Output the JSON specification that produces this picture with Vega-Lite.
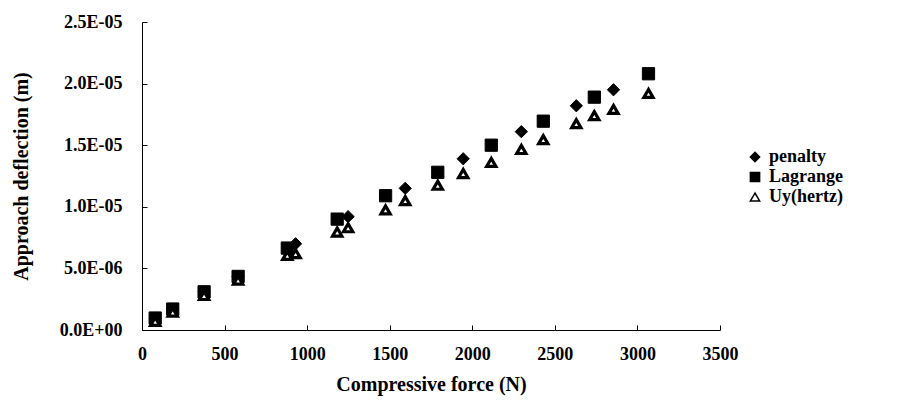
{
  "$schema": "https://vega.github.io/schema/vega-lite/v6.json",
  "width": 578,
  "height": 308,
  "autosize": {"type": "none"},
  "padding": {"left": 142, "top": 22, "right": 182, "bottom": 71},
  "background": "white",
  "config": {
    "view": {"stroke": null},
    "font": "Liberation Serif"
  },
  "data": {
    "values": [
      {"series": "penalty", "force": 80, "deflection": 0.95e-6},
      {"series": "penalty", "force": 186, "deflection": 1.7e-6},
      {"series": "penalty", "force": 376, "deflection": 3.1e-6},
      {"series": "penalty", "force": 582, "deflection": 4.35e-6},
      {"series": "penalty", "force": 930, "deflection": 7.0e-6},
      {"series": "penalty", "force": 1248, "deflection": 9.2e-6},
      {"series": "penalty", "force": 1594, "deflection": 11.5e-6},
      {"series": "penalty", "force": 1945, "deflection": 13.9e-6},
      {"series": "penalty", "force": 2297, "deflection": 16.1e-6},
      {"series": "penalty", "force": 2630, "deflection": 18.2e-6},
      {"series": "penalty", "force": 2855, "deflection": 19.5e-6},
      {"series": "Lagrange", "force": 80, "deflection": 0.97e-6},
      {"series": "Lagrange", "force": 186, "deflection": 1.7e-6},
      {"series": "Lagrange", "force": 376, "deflection": 3.1e-6},
      {"series": "Lagrange", "force": 582, "deflection": 4.35e-6},
      {"series": "Lagrange", "force": 880, "deflection": 6.65e-6},
      {"series": "Lagrange", "force": 1182, "deflection": 9.0e-6},
      {"series": "Lagrange", "force": 1475, "deflection": 10.9e-6},
      {"series": "Lagrange", "force": 1791, "deflection": 12.8e-6},
      {"series": "Lagrange", "force": 2115, "deflection": 15.0e-6},
      {"series": "Lagrange", "force": 2430, "deflection": 16.95e-6},
      {"series": "Lagrange", "force": 2739, "deflection": 18.9e-6},
      {"series": "Lagrange", "force": 3067, "deflection": 20.8e-6},
      {"series": "Uy(hertz)", "force": 80, "deflection": 0.7e-6},
      {"series": "Uy(hertz)", "force": 186, "deflection": 1.45e-6},
      {"series": "Uy(hertz)", "force": 376, "deflection": 2.8e-6},
      {"series": "Uy(hertz)", "force": 582, "deflection": 4.05e-6},
      {"series": "Uy(hertz)", "force": 880, "deflection": 6.05e-6},
      {"series": "Uy(hertz)", "force": 930, "deflection": 6.2e-6},
      {"series": "Uy(hertz)", "force": 1182, "deflection": 7.95e-6},
      {"series": "Uy(hertz)", "force": 1248, "deflection": 8.3e-6},
      {"series": "Uy(hertz)", "force": 1475, "deflection": 9.75e-6},
      {"series": "Uy(hertz)", "force": 1594, "deflection": 10.5e-6},
      {"series": "Uy(hertz)", "force": 1791, "deflection": 11.75e-6},
      {"series": "Uy(hertz)", "force": 1945, "deflection": 12.7e-6},
      {"series": "Uy(hertz)", "force": 2115, "deflection": 13.6e-6},
      {"series": "Uy(hertz)", "force": 2297, "deflection": 14.65e-6},
      {"series": "Uy(hertz)", "force": 2430, "deflection": 15.45e-6},
      {"series": "Uy(hertz)", "force": 2630, "deflection": 16.75e-6},
      {"series": "Uy(hertz)", "force": 2739, "deflection": 17.4e-6},
      {"series": "Uy(hertz)", "force": 2855, "deflection": 17.9e-6},
      {"series": "Uy(hertz)", "force": 3067, "deflection": 19.2e-6}
    ]
  },
  "encoding": {
    "x": {
      "field": "force", "type": "quantitative",
      "scale": {"domain": [0, 3500], "nice": false},
      "axis": {
        "title": "Compressive force (N)",
        "values": [0, 500, 1000, 1500, 2000, 2500, 3000, 3500],
        "format": "d",
        "grid": false,
        "domainColor": "black",
        "tickColor": "black",
        "tickSize": -5,
        "labelPadding": 20,
        "labelFont": "Liberation Serif", "labelFontSize": 18, "labelFontWeight": "bold", "labelColor": "black",
        "titleFont": "Liberation Serif", "titleFontSize": 20, "titleFontWeight": "bold", "titleColor": "black",
        "titlePadding": 11,
        "labelFlush": false
      }
    },
    "y": {
      "field": "deflection", "type": "quantitative",
      "scale": {"domain": [0, 2.5e-5], "nice": false},
      "axis": {
        "title": "Approach deflection (m)",
        "values": [0, 5e-6, 1e-5, 1.5e-5, 2e-5, 2.5e-5],
        "labelExpr": "datum.value == 0 ? '0.0E+00' : (datum.value < 9e-6 ? format(datum.value*1e6, '.1f') + 'E-06' : format(datum.value*1e5, '.1f') + 'E-05')",
        "grid": false,
        "domainColor": "black",
        "tickColor": "black",
        "tickSize": -5,
        "labelPadding": 25,
        "labelFont": "Liberation Serif", "labelFontSize": 18, "labelFontWeight": "bold", "labelColor": "black",
        "titleFont": "Liberation Serif", "titleFontSize": 20, "titleFontWeight": "bold", "titleColor": "black",
        "titlePadding": 28,
        "labelFlush": false
      }
    },
    "shape": {
      "field": "series", "type": "nominal",
      "scale": {"domain": ["penalty", "Lagrange", "Uy(hertz)"], "range": ["diamond", "square", "triangle-up"]},
      "legend": {
        "title": null,
        "orient": "none",
        "legendX": 604,
        "legendY": 126,
        "labelFont": "Liberation Serif", "labelFontSize": 18, "labelFontWeight": "bold", "labelColor": "black",
        "rowPadding": 2,
        "symbolSize": 85,
        "labelOffset": 5,
        "encode": {
          "symbols": {"update": {
            "stroke": {"value": "black"},
            "strokeWidth": {"value": 2.5}
          }}
        }
      }
    },
    "fill": {
      "field": "series", "type": "nominal",
      "scale": {"domain": ["penalty", "Lagrange", "Uy(hertz)"], "range": ["black", "black", "white"]},
      "legend": null
    }
  },
  "layer": [
    {
      "transform": [{"filter": "datum.series != 'Uy(hertz)'"}],
      "mark": {"type": "point", "filled": true, "stroke": "black", "strokeWidth": 1, "size": 150, "opacity": 1}
    },
    {
      "transform": [{"filter": "datum.series == 'Uy(hertz)'"}],
      "mark": {"type": "point", "filled": true, "stroke": "black", "strokeWidth": 3.2, "size": 85, "opacity": 1}
    }
  ]
}
